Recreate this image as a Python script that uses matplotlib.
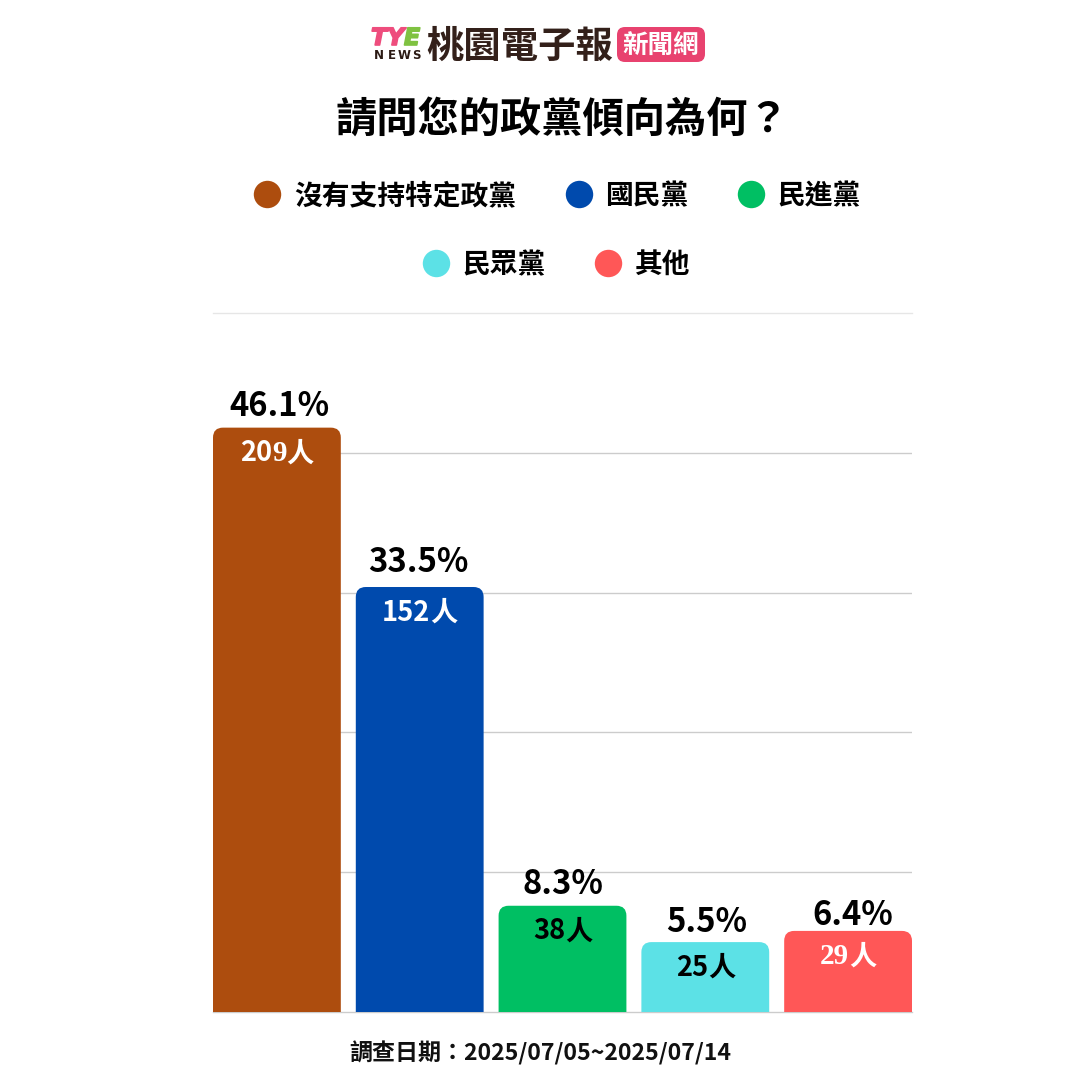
import matplotlib
matplotlib.use("Agg")
import matplotlib.pyplot as plt
import matplotlib.patheffects as pe
from matplotlib.patches import FancyBboxPatch, PathPatch
from matplotlib.path import Path

plt.rcParams['font.family'] = ['Noto Sans CJK TC', 'DejaVu Sans']

# donnees
parties = ["沒有支持特定政黨", "國民黨", "民進黨", "民眾黨", "其他"]
people = [209, 152, 38, 25, 29]
percents = ["46.1%", "33.5%", "8.3%", "5.5%", "6.4%"]
colors = ["#ad4d0e", "#004aad", "#00bf63", "#5ce1e6", "#ff5757"]
label_colors = ["white", "white", "black", "black", "white"]
grid_values = [50, 100, 150, 200]
title = "請問您的政黨傾向為何？"
footer = "調查日期：2025/07/05~2025/07/14"

# decalages en pixels des etiquettes (elles ne sont pas centrees dans l'original)
pct_dx = [3, -1, 0, 1, 5]
pct_gap = [5, 8, 5, 3, -1]
# a partir de quel caractere le nombre passe en serif (None = jamais)
serif_from = [2, None, None, None, 0]

fig = plt.figure(figsize=(10.8, 10.8), dpi=100, facecolor="white")
px = 72 / 100


def rounded_bar(ax, x, h, w, rx, ry, color):
    l, r = x - w / 2, x + w / 2
    verts = [(l, 0), (l, h - ry), (l, h), (l + rx, h), (r - rx, h), (r, h), (r, h - ry), (r, 0), (l, 0)]
    codes = [Path.MOVETO, Path.LINETO, Path.CURVE3, Path.CURVE3, Path.LINETO, Path.CURVE3, Path.CURVE3, Path.LINETO, Path.CLOSEPOLY]
    ax.add_patch(PathPatch(Path(verts, codes), facecolor=color, edgecolor="none", zorder=3))


def count_label(ax, x, h, n, color, cut):
    # nombre + 人, morceau par morceau car certains chiffres sont en serif
    s = str(n)
    if cut is None:
        parts = [(s, "Noto Sans CJK TC", 19.6), ("人", "Noto Sans CJK TC", 19.6)]
    else:
        parts = [(s[:cut], "Noto Sans CJK TC", 19.6), (s[cut:], "Liberation Serif", 21), ("人", "Noto Sans CJK TC", 19.6)]
    parts = [p for p in parts if p[0]]
    rend = fig.canvas.get_renderer()
    widths = []
    for txt, fam, size in parts:
        t = ax.text(0, 0, txt, fontsize=size, fontweight="bold", family=fam)
        widths.append(t.get_window_extent(rend).width)
        t.remove()
    pos = -sum(widths) / 2
    for (txt, fam, size), w in zip(parts, widths):
        ax.annotate(txt, (x, h), xytext=(pos * px, -25.5 * px), textcoords="offset points",
                    ha="left", va="center", fontsize=size, fontweight="bold", family=fam,
                    color=color, zorder=5)
        pos += w


# zone du graphique : x 213-912, y 313-1012 en pixels
ax = fig.add_axes([213 / 1080, (1080 - 1012) / 1080, 699 / 1080, 699 / 1080])
step = 143 / 128
ax.set_xlim(-0.5, 4 * step + 0.5)
ax.set_ylim(0, 250)
for s in ax.spines.values():
    s.set_visible(False)
ax.set_xticks([])
ax.set_yticks([])
ax.patch.set_alpha(0)
for v in grid_values:
    ax.axhline(v, color="#cccccc", lw=1, zorder=1)
ax.axhline(250, color="#e6e6e6", lw=1, zorder=1, clip_on=False)
ax.axhline(0, color="#cccccc", lw=1, zorder=1, clip_on=False)

for i in range(len(people)):
    x = i * step
    rounded_bar(ax, x, people[i], 1, 10 / 128, 10 * 250 / 699, colors[i])
    ax.annotate(percents[i], (x, people[i]), xytext=(pct_dx[i] * px, pct_gap[i] * px), textcoords="offset points",
                ha="center", va="bottom", fontsize=23.6, fontweight="bold", color="black")
    count_label(ax, x, people[i], people[i], label_colors[i], serif_from[i])

# calque en pixels pour titre, legende, logo
ov = fig.add_axes([0, 0, 1, 1])
ov.set_xlim(0, 1080)
ov.set_ylim(1080, 0)
ov.axis("off")
ov.patch.set_alpha(0)

ov.text(562, 120, title, ha="center", va="center", fontsize=29.7, fontweight="bold", color="black")

legend_rows = [(267, 194, 0, 295), (579, 194, 1, 606), (751, 194, 2, 778), (436, 263, 3, 463), (608, 263, 4, 636)]
for cx, cy, i, tx in legend_rows:
    ov.scatter([cx], [cy], s=390, color=colors[i], linewidths=0)
    ov.text(tx - 1, cy + 2, parties[i], ha="left", va="center", fontsize=20, fontweight="bold", color="black")

ov.text(540.5, 1053, footer, ha="center", va="center", fontsize=16.6, fontweight="bold", color="#111111")

# logo
heavy = [pe.withStroke(linewidth=1.2, foreground="#ee4d7d")]
ov.text(371, 38, "TY", ha="left", va="center", fontsize=17, fontweight="bold", style="italic",
        color="#ee4d7d", family="DejaVu Sans", path_effects=heavy)
ov.text(404, 38, "E", ha="left", va="center", fontsize=17, fontweight="bold", style="italic",
        color="#7fc241", family="DejaVu Sans", path_effects=[pe.withStroke(linewidth=1.2, foreground="#7fc241")])
for cx, letter in zip([378.5, 391.5, 404.5, 416], "NEWS"):
    ov.text(cx, 55.5, letter, ha="center", va="center", fontsize=8.5, fontweight="bold", color="#2b1a14", family="DejaVu Sans")
ov.text(519.5, 46, "桃園電子報", ha="center", va="center", fontsize=26.9, fontweight="bold", color="#33201a")
ov.add_patch(FancyBboxPatch((617, 27), 88, 35, boxstyle="round,pad=0,rounding_size=8", facecolor="#e8426f", edgecolor="none"))
ov.text(661, 46, "新聞網", ha="center", va="center", fontsize=18.4, fontweight="bold", color="white")

fig.savefig("out.png", dpi=100)
